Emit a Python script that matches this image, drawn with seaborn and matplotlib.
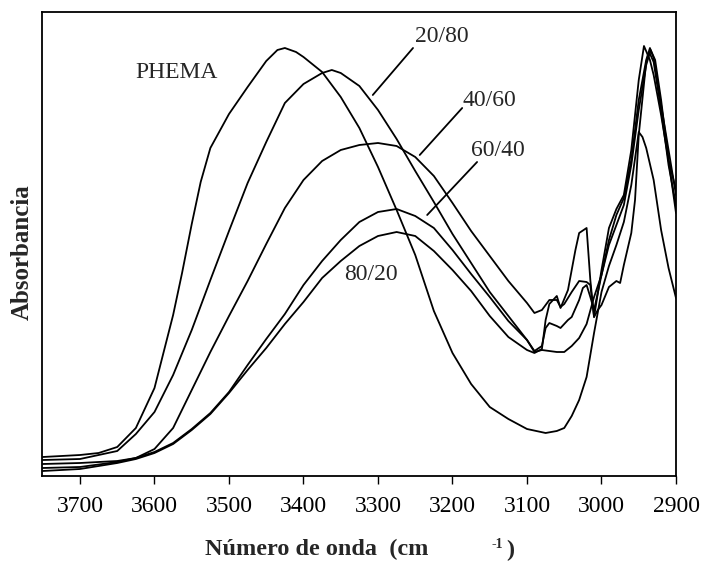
import numpy as np
import pandas as pd
import matplotlib
matplotlib.use("Agg")
import matplotlib.pyplot as plt
import seaborn as sns

# ---- data (wavenumber in cm^-1, absorbance in arbitrary units) ----
wn_phema = [3750, 3700, 3675, 3650, 3625, 3600, 3587, 3575, 3563, 3550, 3538, 3525, 3500, 3475,
            3450, 3435, 3425, 3410, 3400, 3375, 3350, 3325, 3300, 3275, 3250, 3225, 3200, 3175,
            3150, 3125, 3100, 3075, 3060, 3050, 3040, 3030, 3020, 3010, 3000, 2990, 2980, 2970,
            2960, 2950, 2945, 2940, 2930, 2920, 2910, 2900]
ab_phema = [19, 21, 23, 29, 48, 88, 126, 161, 203, 252, 294, 328, 362, 389,
            415, 426, 428, 424, 419, 404, 379, 348, 309, 266, 221, 165, 123, 92,
            69, 57, 47, 43, 45, 48, 60, 76, 99, 143, 184, 210, 231, 254,
            291, 344, 339, 328, 296, 246, 208, 178]

wn_2080 = [3750, 3700, 3650, 3625, 3600, 3575, 3550, 3525, 3500, 3475, 3450, 3425, 3400, 3375,
           3362, 3350, 3325, 3300, 3275, 3250, 3225, 3200, 3175, 3150, 3125, 3100, 3090, 3080,
           3075, 3070, 3060, 3055, 3045, 3040, 3030, 3025, 3020, 3015, 3010, 3005, 3000, 2990,
           2980, 2970, 2960, 2950, 2940, 2935, 2930, 2920, 2910, 2900]
ab_2080 = [16, 17, 25, 42, 64, 101, 146, 196, 245, 293, 334, 373, 392, 403,
           406, 403, 390, 366, 337, 305, 274, 242, 213, 184, 160, 136, 125, 130,
           148, 153, 150, 148, 156, 159, 176, 188, 191, 179, 166, 183, 201, 236,
           261, 278, 316, 376, 416, 428, 418, 371, 326, 281]

wn_4060 = [3750, 3700, 3650, 3625, 3600, 3575, 3550, 3525, 3500, 3475, 3450, 3425, 3400, 3375,
           3350, 3325, 3300, 3275, 3250, 3225, 3200, 3175, 3150, 3125, 3100, 3090, 3080, 3070,
           3060, 3055, 3050, 3040, 3030, 3020, 3015, 3010, 3000, 2990, 2980, 2970, 2960, 2950,
           2943, 2935, 2930, 2920, 2910, 2900]
ab_4060 = [12, 13, 15, 18, 27, 48, 86, 124, 160, 195, 232, 268, 296, 315,
           326, 331, 333, 330, 319, 300, 273, 245, 220, 195, 173, 163, 166, 176,
           176, 169, 172, 184, 195, 194, 191, 159, 206, 248, 267, 281, 326, 396,
           430, 416, 401, 361, 316, 286]

wn_6040 = [3750, 3700, 3650, 3625, 3600, 3575, 3550, 3525, 3500, 3475, 3450, 3425, 3400, 3375,
           3350, 3325, 3300, 3275, 3250, 3225, 3200, 3175, 3150, 3125, 3100, 3090, 3080, 3060,
           3050, 3040, 3030, 3020, 3010, 3000, 2990, 2980, 2970, 2960, 2950, 2940, 2934, 2928,
           2920, 2910, 2900]
ab_6040 = [8, 9, 14, 18, 24, 33, 47, 63, 84, 111, 137, 162, 191, 215,
           236, 254, 264, 267, 260, 248, 226, 202, 179, 155, 136, 124, 126, 124,
           124, 130, 138, 152, 179, 201, 231, 251, 271, 311, 366, 411, 426, 416,
           376, 316, 263]

wn_8020 = [3750, 3700, 3650, 3625, 3600, 3575, 3550, 3525, 3500, 3475, 3450, 3425, 3400, 3375,
           3350, 3325, 3300, 3275, 3250, 3225, 3200, 3175, 3150, 3125, 3100, 3090, 3080, 3075,
           3070, 3060, 3055, 3045, 3035, 3030, 3020, 3015, 3010, 3005, 3000, 2990, 2980, 2975,
           2970, 2960, 2955, 2950, 2940, 2936, 2930, 2920, 2910, 2900]
ab_8020 = [5, 7, 13, 17, 23, 32, 46, 62, 83, 106, 128, 152, 174, 198,
           215, 230, 240, 244, 240, 225, 206, 185, 160, 139, 126, 123, 127, 156,
           172, 180, 168, 186, 226, 243, 248, 196, 159, 166, 171, 189, 195, 193,
           211, 243, 276, 341, 414, 424, 414, 366, 311, 271]

series_names = ["PHEMA", "20/80", "40/60", "60/40", "80/20"]
x_ticks = [3700, 3600, 3500, 3400, 3300, 3200, 3100, 3000, 2900]

frames = []
for name, wn, ab in zip(series_names,
                        [wn_phema, wn_2080, wn_4060, wn_6040, wn_8020],
                        [ab_phema, ab_2080, ab_4060, ab_6040, ab_8020]):
    frames.append(pd.DataFrame({"wn": wn, "ab": ab, "muestra": name}))
df = pd.concat(frames, ignore_index=True)

# ---- style ----
sns.set_style("white")
plt.rcParams["font.family"] = ["Liberation Serif", "DejaVu Serif"]

fig = plt.figure(figsize=(7.04, 5.61), dpi=100)
ax = fig.add_axes([42 / 704, 85 / 561, 634 / 704, 464 / 561])

sns.lineplot(data=df, x="wn", y="ab", units="muestra", estimator=None, sort=False,
             color="black", linewidth=1.3, ax=ax, legend=False)

ax.set_xlim(3751, 2900)
ax.set_ylim(0, 464)
ax.set_xticks(x_ticks)
ax.set_xticklabels([str(t) for t in x_ticks], fontsize=17)
ax.set_yticks([])
ax.tick_params(axis="x", direction="out", length=5.5, width=1.0, pad=9,
               bottom=True, colors="black")
for s in ax.spines.values():
    s.set_linewidth(1.3)
    s.set_color("black")
ax.set_xlabel("")
ax.set_ylabel("")

# ---- labels ----
fs = 17
ax.text(3571, 404, "PHEMA", fontsize=fs, ha="center", va="center")
ax.text(3215, 439, "20/80", fontsize=fs, ha="center", va="center")
ax.text(3150, 376, "40/60", fontsize=fs, ha="center", va="center")
ax.text(3139, 325, "60/40", fontsize=fs, ha="center", va="center")
ax.text(3309, 201, "80/20", fontsize=fs, ha="center", va="center")
ax.plot([3307, 3253], [381, 428], color="black", lw=1.3)
ax.plot([3244, 3187], [321, 368], color="black", lw=1.3)
ax.plot([3234, 3167], [261, 314], color="black", lw=1.3)

# axis titles
fig.text(205 / 704, 1 - 549 / 561, "Número de onda  (cm", fontsize=17.5,
         fontweight="bold", ha="left", va="center")
fig.text(497 / 704, 1 - 544 / 561, "-1", fontsize=10, fontweight="bold",
         ha="center", va="center")
fig.text(510 / 704, 1 - 550 / 561, ")", fontsize=17.5, fontweight="bold",
         ha="center", va="center")
fig.text(22 / 704, 1 - 252 / 561, "Absorbancia", fontsize=18, fontweight="bold",
         rotation=90, ha="center", va="center")

fig.savefig("out.png", dpi=100, facecolor="white")
